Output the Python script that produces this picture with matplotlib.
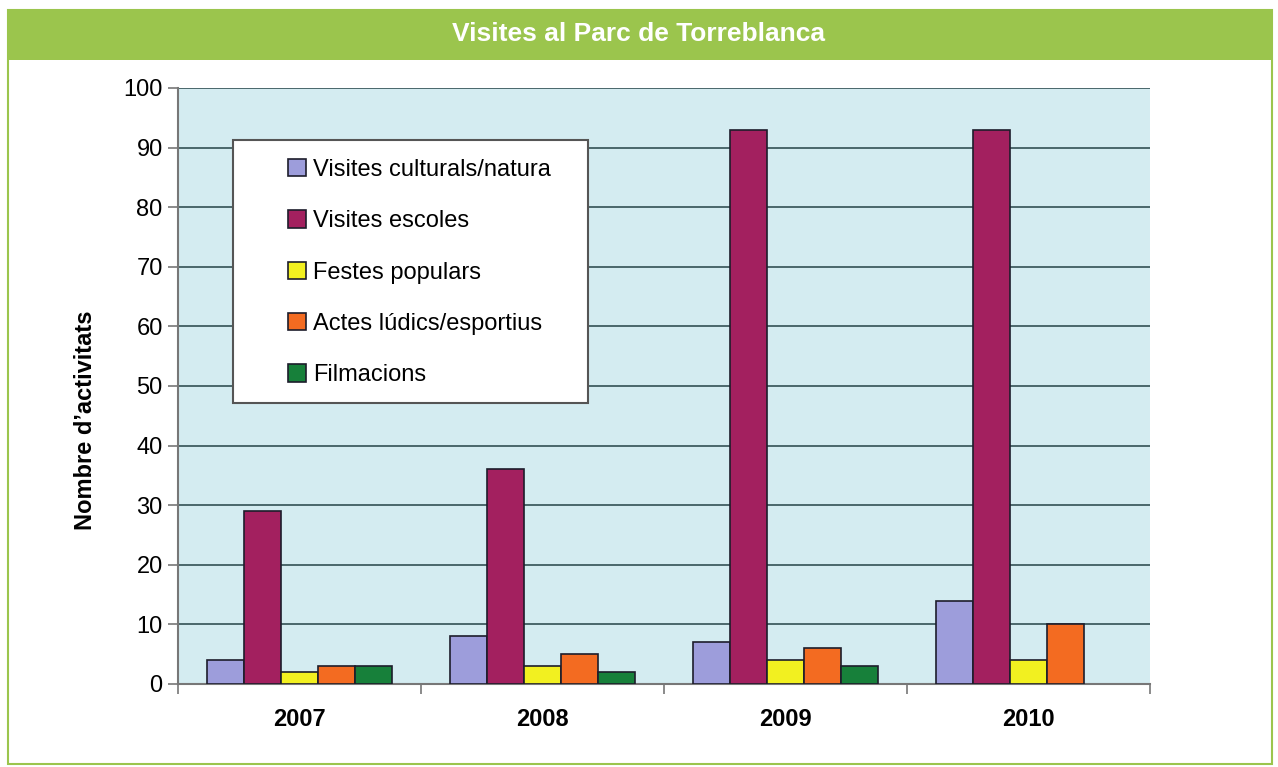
import numpy as np
import matplotlib.pyplot as plt
from matplotlib.patches import Rectangle

years = ["2007", "2008", "2009", "2010"]
series = ["Visites culturals/natura", "Visites escoles", "Festes populars",
          "Actes lúdics/esportius", "Filmacions"]
culturals = [4, 8, 7, 14]
escoles = [29, 36, 93, 93]
festes = [2, 3, 4, 4]
actes = [3, 5, 6, 10]
filmacions = [3, 2, 3, 0]
values = [culturals, escoles, festes, actes, filmacions]
colors = ["#9D9DDB", "#A3205F", "#F2F020", "#F36B21", "#17803A"]

W, H = 1278, 767
fig = plt.figure(figsize=(W / 100, H / 100), dpi=100)
plt.rcParams["font.family"] = ["Liberation Sans", "DejaVu Sans"]

# green frame + title bar
fig.patches.append(Rectangle((8 / W, 1 - 764 / H), 1264 / W, 754 / H, transform=fig.transFigure,
                             fill=False, edgecolor="#9BC54D", linewidth=1.5))
fig.patches.append(Rectangle((8 / W, 1 - 60 / H), 1264 / W, 50 / H, transform=fig.transFigure,
                             facecolor="#9BC54D", edgecolor="none"))
fig.text(0.5, 1 - 34 / H, "Visites al Parc de Torreblanca", color="white",
         fontsize=19, fontweight="bold", ha="center", va="center")

ax = fig.add_axes([178 / W, 1 - 684 / H, (1150 - 178) / W, (684 - 88) / H])
ax.set_facecolor("#D4ECF1")

x = np.arange(len(years))
bw = 0.153
for i, (name, vals) in enumerate(zip(series, values)):
    v = np.array(vals, dtype=float)
    v[v == 0] = np.nan  # no bar when there were no activities
    ax.bar(x + (i - 2) * bw, v, width=bw, color=colors[i], edgecolor="#1d1d2b",
           linewidth=1.2, label=name, zorder=3)

ax.set_xlim(-0.5, 3.5)
ax.set_ylim(0, 100)
ax.set_yticks(range(0, 101, 10))
ax.yaxis.grid(True, color="#3F5C60", linewidth=1.3, zorder=0)
ax.set_xticks(x)
ax.set_xticklabels(years, fontsize=17, fontweight="bold")
ax.set_xticks(np.arange(-0.5, 4.0, 1.0), minor=True)
ax.tick_params(axis="x", which="major", length=0, pad=17)
ax.tick_params(axis="x", which="minor", length=7, color="#777777", width=1.2)
ax.tick_params(axis="y", length=7, color="#777777", width=1.2, labelsize=17, pad=4)
for s in ["top", "right"]:
    ax.spines[s].set_visible(False)
for s in ["left", "bottom"]:
    ax.spines[s].set_color("#777777")
    ax.spines[s].set_linewidth(1.5)

fig.text(85 / W, 1 - 420 / H, "Nombre d’activitats", fontsize=17, fontweight="bold",
         rotation=90, ha="center", va="center")

# legend box drawn separately so the padding matches
ax.add_patch(Rectangle((233 / W, 1 - 403 / H), 355 / W, 263 / H, transform=fig.transFigure,
                       facecolor="white", edgecolor="#555555", linewidth=1.5, zorder=4))
leg = ax.legend(loc="upper left", bbox_to_anchor=(288 / W, 1 - 159 / H),
                bbox_transform=fig.transFigure, frameon=False,
                prop={"size": 17}, handlelength=0.75, handleheight=0.75,
                handletextpad=0.3, labelspacing=1.24, borderpad=0, borderaxespad=0)
leg.set_zorder(5)

fig.savefig("out.png", dpi=100)
